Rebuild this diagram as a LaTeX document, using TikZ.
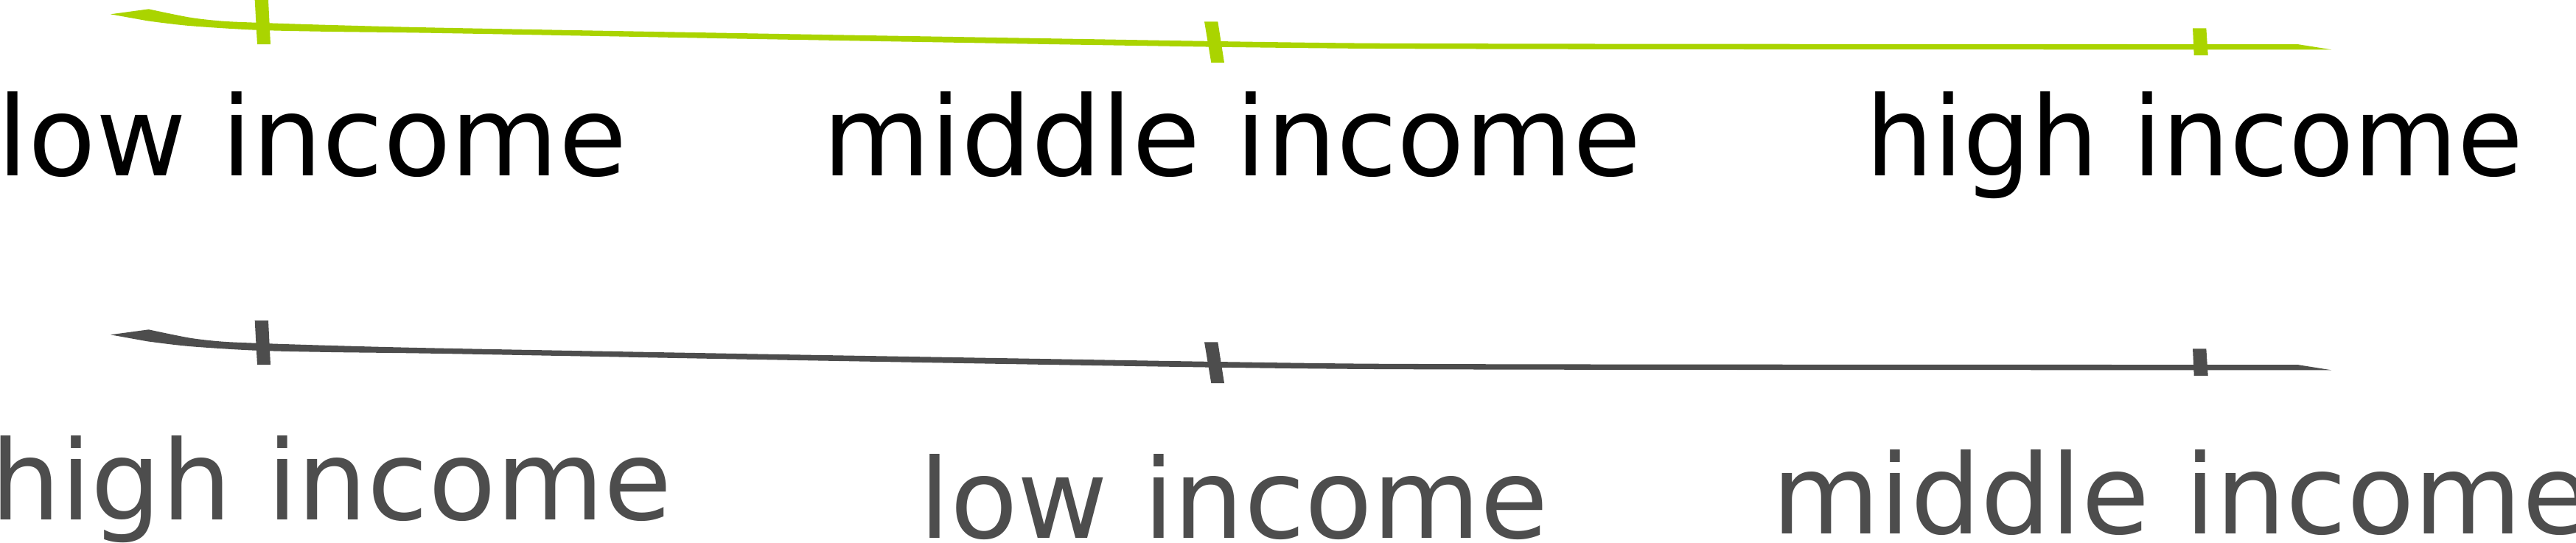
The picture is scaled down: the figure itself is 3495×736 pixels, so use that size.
\documentclass[tikz,border=0pt]{standalone}
\usepackage{fontspec}
\setmainfont{DejaVu Sans}

% Asse con tre tacche (coordinate in pixel, origine in alto a sinistra)
\newcommand{\incomeaxis}[1]{%
  % tratto a pennello
  \fill[#1] (150,19.3) -- plot[smooth, tension=0.5] coordinates {
      (201.7,12.3) (256.7,23.5) (300,28.5) (347,30.7) (450,34) (600,37.7)
      (1000,45) (1400,51.8) (1650,56) (1850,58.6) (2100,59.4) (2500,59.8)
      (2900,60) (3117,60)}
    -- (3163,67.3) -- plot[smooth, tension=0.5] coordinates {
      (2900,67.3) (2500,67.1) (2100,66.7) (1850,65.9) (1650,63.7)
      (1400,59.6) (1000,52.5) (600,45) (450,43)
      (347,40.7) (256.7,35) (200,28.3)} -- cycle;
  % tacche
  \fill[#1] (345.7,0) -- (364,0) -- (367,60) -- (349,60) -- cycle;
  \fill[#1] (1634,29.3) -- (1652.3,29.3) -- (1661,85) -- (1643.3,85) -- cycle;
  \fill[#1] (2975,38.3) -- (2993.3,38.3) -- (2995.7,75) -- (2976.7,75) -- cycle;
}

\begin{document}
\begin{tikzpicture}[x=0.01cm, y=-0.01cm,
  incomelabel/.style={font=\fontsize{42.68}{51}\selectfont, anchor=base west, inner sep=0pt}]

% Colori
\definecolor{axisGreen}{HTML}{AAD400}
\definecolor{axisGray}{HTML}{4D4D4D}

\useasboundingbox (0,0) rectangle (3495,736);

% Asse superiore
\incomeaxis{axisGreen}

\node[incomelabel] (lowTop) at (-4,238.3) {low income};
\node[incomelabel] (middleTop) at (1115.7,238.3) {middle income};
\node[incomelabel, xscale=0.965, transform shape] (highTop) at (2531,238.3) {high income};

% Asse inferiore (stesso tratto, spostato di 435 px)
\begin{scope}[shift={(0,435)}]
  \incomeaxis{axisGray}
\end{scope}

\node[incomelabel, text=axisGray] (highBot) at (-13.6,705) {high income};
\node[incomelabel, text=axisGray] (lowBot) at (1246.6,730) {low income};
\node[incomelabel, text=axisGray] (middleBot) at (2403.7,724) {middle income};

\end{tikzpicture}
\end{document}
